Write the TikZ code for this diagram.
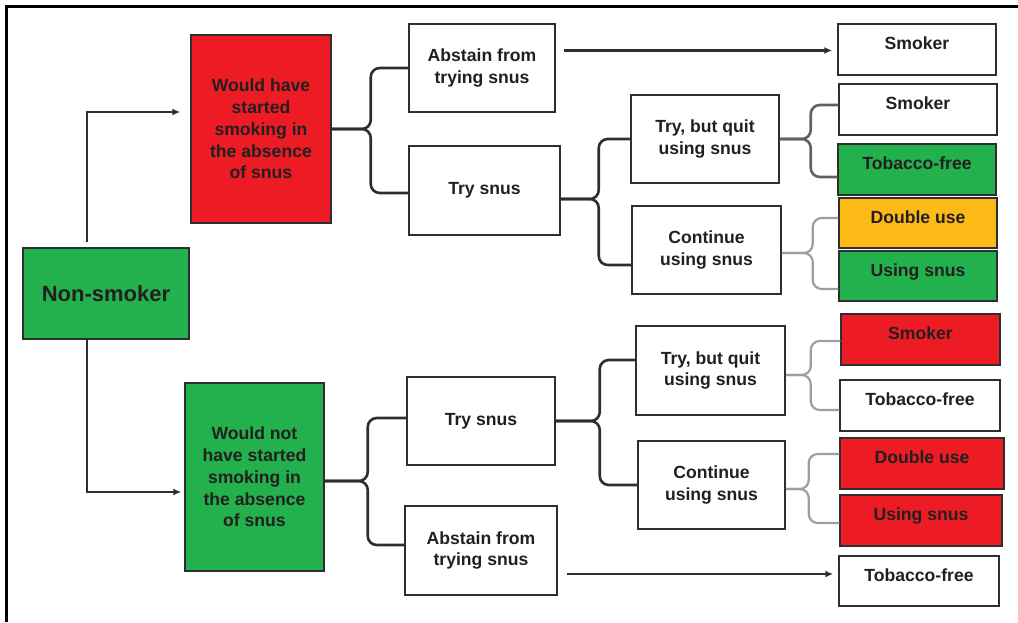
\documentclass[tikz,border=0pt]{standalone}
\usepackage{fontspec}
\setmainfont{Liberation Sans}
\usetikzlibrary{arrows.meta}
\definecolor{txt}{HTML}{231F20}
\definecolor{bxred}{HTML}{ED1C24}
\definecolor{bxgreen}{HTML}{22B14C}
\definecolor{bxorange}{HTML}{FBBA16}
\definecolor{edge}{HTML}{2E2E2E}
\begin{document}
\begin{tikzpicture}[x=1pt,y=-1pt,
  box/.style={draw=edge,line width=1.5pt,inner sep=0pt,align=center,
    font=\fontsize{17.6}{21.8}\selectfont\bfseries,text=txt},
  endbox/.style={box,text height=12pt,text depth=12pt},
  brc/.style={draw=edge,line width=2.6pt,rounded corners=9pt},
  brcmid/.style={brc,draw=black!62},
  brclight/.style={brc,draw=black!38,line width=2.2pt},
  arr/.style={draw=edge,line width=2.6pt,-{Latex[length=8pt,width=7pt]}}]
\useasboundingbox (0,0) rectangle (1018,622);
\draw[line width=3pt,black] (6,622) -- (6,6) -- (1018,6);
% nodes
\node[box,fill=bxgreen,minimum width=166,minimum height=91,font=\fontsize{22}{26}\selectfont\bfseries] (ns) at (106,293.5) {Non-smoker};
\node[box,fill=bxred,minimum width=140,minimum height=188] (red) at (261,129) {Would have\\started\\smoking in\\the absence\\of snus};
\node[box,fill=bxgreen,minimum width=139,minimum height=188] (grn) at (254.5,477) {Would not\\have started\\smoking in\\the absence\\of snus};
\node[box,minimum width=146,minimum height=88] (abs1) at (482,68) {Abstain from\\trying snus};
\node[box,minimum width=151,minimum height=89] (try1) at (484.5,190.5) {Try snus};
\node[box,minimum width=148,minimum height=88] (tbq1) at (705,139) {Try, but quit\\using snus};
\node[box,minimum width=149,minimum height=88] (cont1) at (706.5,250) {Continue\\using snus};
\node[endbox,minimum width=158,minimum height=51] (sm1) at (917,49.5) {Smoker};
\node[endbox,minimum width=158,minimum height=51] (sm2) at (918,109.5) {Smoker};
\node[endbox,fill=bxgreen,minimum width=158,minimum height=51] (tf1) at (917,169.5) {Tobacco-free};
\node[endbox,fill=bxorange,minimum width=158,minimum height=50] (du1) at (918,223) {Double use};
\node[endbox,fill=bxgreen,minimum width=158,minimum height=50] (us1) at (918,276) {Using snus};
\node[box,minimum width=148,minimum height=88] (try2) at (481,421) {Try snus};
\node[box,minimum width=152,minimum height=89] (abs2) at (481,550.5) {Abstain from\\trying snus};
\node[box,minimum width=149,minimum height=89] (tbq2) at (710.5,370.5) {Try, but quit\\using snus};
\node[box,minimum width=147,minimum height=88] (cont2) at (711.5,485) {Continue\\using snus};
\node[endbox,fill=bxred,minimum width=159,minimum height=51] (sm3) at (920.5,339.5) {Smoker};
\node[endbox,minimum width=160,minimum height=51] (tf2) at (920,405.5) {Tobacco-free};
\node[endbox,fill=bxred,minimum width=164,minimum height=51] (du2) at (922,463.5) {Double use};
\node[endbox,fill=bxred,minimum width=162,minimum height=51] (us2) at (921,520.5) {Using snus};
\node[endbox,minimum width=160,minimum height=50] (tf3) at (919,581) {Tobacco-free};
% arrows from non-smoker
\draw[arr,shorten <=5pt,shorten >=10pt] ([xshift=-19pt]ns.north) |- ([yshift=17pt]red.west);
\draw[arr,shorten >=3pt] ([xshift=-19pt]ns.south) |- ([yshift=-15pt]grn.west);
% straight arrows
\coordinate (t1) at ([yshift=-1pt]sm1.west);
\draw[arr,shorten <=8pt,shorten >=5pt] (abs1.east |- t1) -- (t1);
\coordinate (t3) at ([yshift=7pt]tf3.west);
\draw[arr,shorten <=9pt,shorten >=5pt] (abs2.east |- t3) -- (t3);
% braces top
\draw[brc] (red.east) -- ++(39,0) |- (abs1.west);
\draw[brc] (red.east) -- ++(39,0) |- ([yshift=-2.5pt]try1.west);
\draw[brc] ([yshift=-8.5pt]try1.east) -- ++(38,0) |- (tbq1.west);
\draw[brc] ([yshift=-8.5pt]try1.east) -- ++(38,0) |- ([yshift=-15pt]cont1.west);
\draw[brcmid] (tbq1.east) -- ++(31,0) |- ([yshift=4.5pt]sm2.west);
\draw[brcmid] (tbq1.east) -- ++(31,0) |- ([yshift=-7.5pt]tf1.west);
\draw[brclight] ([yshift=-3pt]cont1.east) -- ++(31,0) |- ([yshift=5pt]du1.west);
\draw[brclight] ([yshift=-3pt]cont1.east) -- ++(31,0) |- ([yshift=-13pt]us1.west);
% braces bottom
\draw[brc] ([yshift=-4pt]grn.east) -- ++(43,0) |- ([yshift=3pt]try2.west);
\draw[brc] ([yshift=-4pt]grn.east) -- ++(43,0) |- ([yshift=5.5pt]abs2.west);
\draw[brc] (try2.east) -- ++(44,0) |- ([yshift=10.5pt]tbq2.west);
\draw[brc] (try2.east) -- ++(44,0) |- (cont2.west);
\draw[brclight] ([yshift=-4.5pt]tbq2.east) -- ++(25,0) |- ([yshift=-1.5pt]sm3.west);
\draw[brclight] ([yshift=-4.5pt]tbq2.east) -- ++(25,0) |- ([yshift=-4.5pt]tf2.west);
\draw[brclight] ([yshift=-4pt]cont2.east) -- ++(23,0) |- ([yshift=9.5pt]du2.west);
\draw[brclight] ([yshift=-4pt]cont2.east) -- ++(23,0) |- ([yshift=-2.5pt]us2.west);
\end{tikzpicture}
\end{document}
